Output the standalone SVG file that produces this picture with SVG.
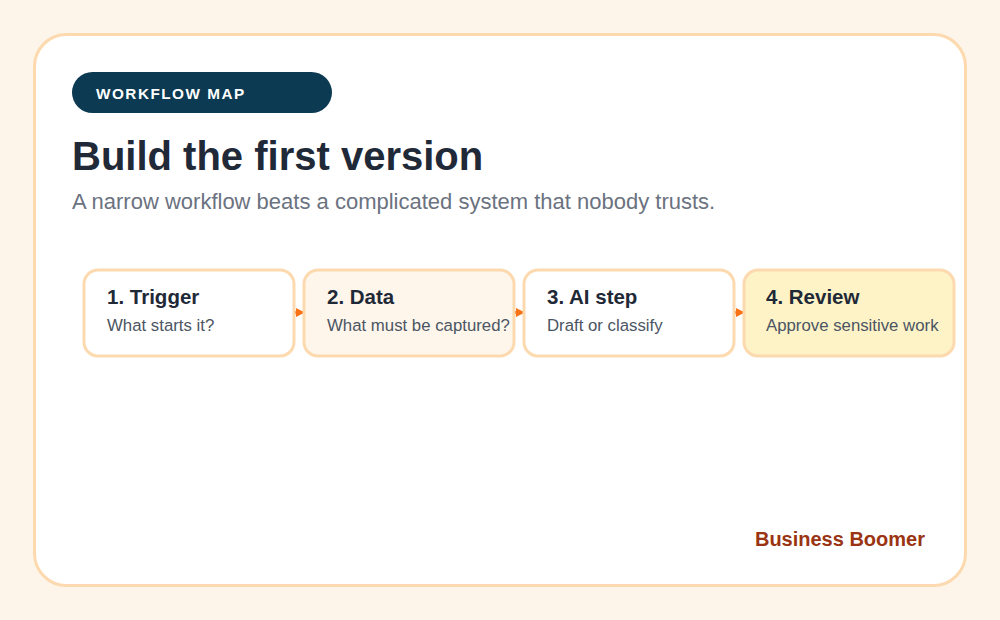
<svg xmlns="http://www.w3.org/2000/svg" width="1000" height="620" viewBox="0 0 1000 620">
<defs>
<style>
.node rect{stroke:#fcd9ae;stroke-width:3}
.nt{font-family:"Liberation Sans",Arial,sans-serif;font-weight:bold;font-size:20.5px;fill:#1f2937}
.ns{font-family:"Liberation Sans",Arial,sans-serif;font-size:16.8px;fill:#4b5563}
.conn{stroke:#f97316;stroke-width:3;fill:none}
</style>
<marker id="ah" viewBox="0 0 10 10" refX="9" refY="5" markerWidth="3" markerHeight="3" orient="auto">
<path d="M0,0 L10,5 L0,10 z" fill="#f97316"/>
</marker>
</defs>
<rect width="1000" height="620" fill="#fdf4ea"/>
<rect x="34.5" y="34.5" width="931" height="551" rx="32" fill="#ffffff" stroke="#fcd9ae" stroke-width="3"/>
<g id="badge">
<rect x="72" y="72" width="260" height="41" rx="20.5" fill="#0b3a52"/>
<text x="96" y="99" font-family="Liberation Sans,Arial,sans-serif" font-weight="bold" font-size="15.3" letter-spacing="1.5" fill="#ffffff">WORKFLOW MAP</text>
</g>
<text x="72" y="170" font-family="Liberation Sans,Arial,sans-serif" font-weight="bold" font-size="40" fill="#1f2937">Build the first version</text>
<text x="72" y="209" font-family="Liberation Sans,Arial,sans-serif" font-size="22" fill="#6b7280">A narrow workflow beats a complicated system that nobody trusts.</text>
<g id="connectors">
<line class="conn" x1="295" y1="312.5" x2="304" y2="312.5" marker-end="url(#ah)"/>
<line class="conn" x1="515" y1="312.5" x2="524" y2="312.5" marker-end="url(#ah)"/>
<line class="conn" x1="735" y1="312.5" x2="744" y2="312.5" marker-end="url(#ah)"/>
</g>
<g id="node1" class="node">
<rect x="84" y="270" width="210" height="86" rx="14" fill="#ffffff"/>
<text class="nt" x="107" y="304">1. Trigger</text>
<text class="ns" x="107" y="331">What starts it?</text>
</g>
<g id="node2" class="node">
<rect x="304" y="270" width="210" height="86" rx="14" fill="#fef6eb"/>
<text class="nt" x="327" y="304">2. Data</text>
<text class="ns" x="327" y="331">What must be captured?</text>
</g>
<g id="node3" class="node">
<rect x="524" y="270" width="210" height="86" rx="14" fill="#ffffff"/>
<text class="nt" x="547" y="304">3. AI step</text>
<text class="ns" x="547" y="331">Draft or classify</text>
</g>
<g id="node4" class="node">
<rect x="744" y="270" width="210" height="86" rx="14" fill="#fef3c7"/>
<text class="nt" x="766" y="304">4. Review</text>
<text class="ns" x="766" y="331">Approve sensitive work</text>
</g>
<text x="925" y="546" text-anchor="end" font-family="Liberation Sans,Arial,sans-serif" font-weight="bold" font-size="20" fill="#9a3412">Business Boomer</text>
</svg>
